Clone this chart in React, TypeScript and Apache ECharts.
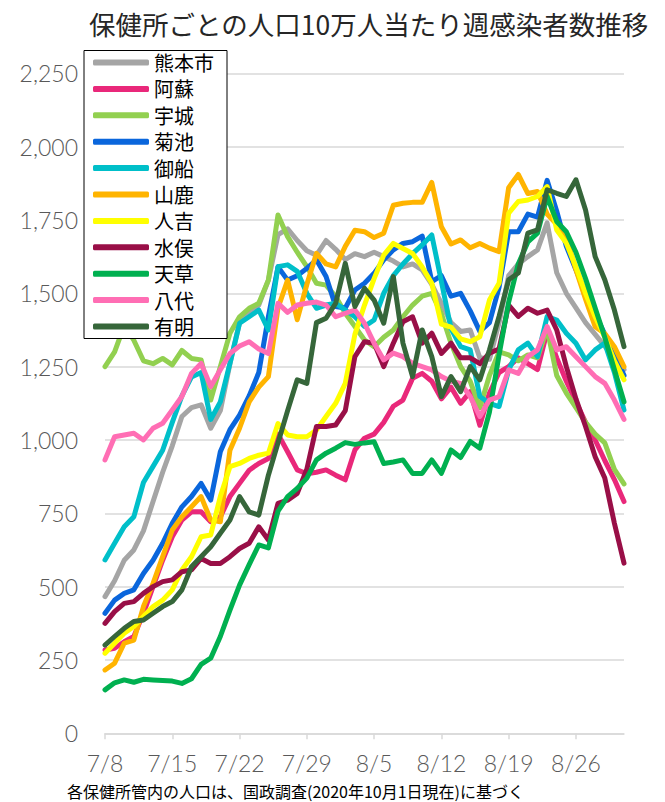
import React, { useEffect, useRef } from "react";
import * as echarts from "echarts";

const dates = [
  "7/8","7/9","7/10","7/11","7/12","7/13","7/14","7/15","7/16","7/17",
  "7/18","7/19","7/20","7/21","7/22","7/23","7/24","7/25","7/26","7/27",
  "7/28","7/29","7/30","7/31","8/1","8/2","8/3","8/4","8/5","8/6",
  "8/7","8/8","8/9","8/10","8/11","8/12","8/13","8/14","8/15","8/16",
  "8/17","8/18","8/19","8/20","8/21","8/22","8/23","8/24","8/25","8/26",
  "8/27","8/28","8/29","8/30","8/31",
];

const yTicks = [0, 250, 500, 750, 1000, 1250, 1500, 1750, 2000, 2250];

const kumamotoCity = [466,520,590,625,690,790,890,980,1080,1110,1120,1040,1100,1260,1400,1430,1460,1545,1700,1720,1680,1645,1630,1680,1650,1615,1635,1625,1640,1625,1610,1590,1600,1580,1530,1466,1400,1370,1375,1280,1275,1400,1560,1600,1625,1648,1740,1570,1500,1450,1400,1360,1320,1280,1240];
const aso = [284,290,312,330,409,500,590,670,727,755,755,721,738,807,852,897,920,937,1020,960,898,885,890,898,880,864,966,1006,1020,1060,1115,1136,1210,1227,1200,1140,1180,1125,1165,1050,1160,1230,1250,1280,1260,1240,1370,1280,1200,1130,1060,1000,930,865,790];
const uki = [1250,1300,1390,1340,1270,1260,1278,1256,1305,1278,1273,1136,1250,1364,1420,1449,1466,1545,1767,1693,1640,1591,1534,1528,1489,1432,1387,1341,1318,1350,1375,1420,1460,1490,1500,1430,1330,1250,1200,1110,1220,1300,1290,1270,1290,1280,1380,1220,1160,1110,1060,1020,990,900,850];
const kikuchi = [409,454,477,489,545,590,648,716,772,807,852,795,960,1035,1085,1150,1230,1420,1590,1545,1560,1585,1614,1557,1455,1450,1511,1534,1568,1614,1648,1670,1676,1695,1540,1560,1490,1500,1440,1370,1400,1520,1710,1710,1770,1760,1885,1780,1660,1580,1500,1430,1360,1290,1220];
const mifune = [591,648,704,738,855,910,965,1060,1150,1215,1230,1070,1130,1261,1398,1420,1443,1375,1591,1597,1575,1500,1449,1460,1466,1443,1420,1387,1409,1500,1560,1600,1635,1665,1699,1540,1380,1318,1307,1148,1125,1114,1239,1307,1330,1284,1421,1409,1364,1330,1273,1307,1330,1230,1102];
const yamaga = [216,239,307,318,432,511,602,693,738,772,807,727,721,965,1040,1130,1180,1216,1450,1545,1410,1530,1636,1600,1590,1660,1715,1710,1690,1705,1800,1807,1810,1810,1878,1727,1668,1682,1655,1670,1654,1642,1860,1905,1840,1847,1770,1735,1690,1580,1480,1386,1363,1318,1250];
const hitoyoshi = [273,307,341,364,398,432,454,489,557,602,670,676,807,909,920,937,948,955,1056,1017,1011,1011,1034,1080,1125,1193,1360,1460,1550,1630,1670,1653,1636,1590,1534,1395,1385,1345,1335,1352,1477,1534,1773,1813,1818,1830,1864,1716,1671,1590,1500,1420,1350,1270,1205];
const minamata = [375,415,443,449,477,500,517,523,551,557,596,579,579,602,630,648,704,659,784,795,818,900,1046,1046,1051,1100,1284,1335,1330,1250,1330,1403,1420,1330,1364,1295,1330,1280,1280,1260,1296,1310,1460,1421,1449,1432,1443,1375,1250,1140,1046,943,870,716,580];
const amakusa = [148,172,182,174,184,182,180,178,170,186,235,256,330,420,505,575,642,632,757,807,835,870,932,955,972,991,985,990,994,920,925,932,886,886,932,886,966,940,995,972,1095,1290,1470,1600,1675,1705,1830,1745,1710,1640,1550,1450,1350,1240,1130];
const yatsushiro = [932,1011,1017,1023,1000,1040,1057,1102,1148,1227,1261,1182,1239,1295,1320,1335,1310,1295,1466,1435,1460,1466,1470,1460,1420,1432,1443,1398,1330,1273,1296,1284,1261,1250,1239,1216,1200,1193,1148,1080,1136,1148,1239,1227,1284,1307,1387,1307,1318,1284,1250,1216,1193,1136,1070];
const ariake = [301,330,358,381,386,409,432,449,489,568,602,636,682,727,807,755,744,880,990,1100,1205,1193,1400,1415,1466,1602,1455,1517,1477,1398,1557,1330,1216,1375,1284,1148,1216,1165,1250,1205,1307,1421,1546,1569,1705,1716,1853,1841,1830,1887,1784,1625,1546,1443,1318];

const seriesNames = ["熊本市","阿蘇","宇城","菊池","御船","山鹿","人吉","水俣","天草","八代","有明"];
const seriesColors = ["#A5A5A5","#E9287A","#92D050","#0A66DC","#00BFC9","#FFB400","#FFFF00","#990F47","#00B050","#FF6EB4","#36663A"];
const seriesData = [kumamotoCity, aso, uki, kikuchi, mifune, yamaga, hitoyoshi, minamata, amakusa, yatsushiro, ariake];

const titleText = "保健所ごとの人口10万人当たり週感染者数推移";
const noteText = "各保健所管内の人口は、国政調査(2020年10月1日現在)に基づく";

export default function App() {
  const ref = useRef<HTMLDivElement>(null);
  useEffect(() => {
    if (!ref.current) return;
    const chart = echarts.init(ref.current, undefined, { renderer: "svg" });
    const jp = "'Noto Sans CJK JP', 'Noto Sans', sans-serif";
    const num = "Lato, 'DejaVu Sans', sans-serif";
    chart.setOption({
      animation: false,
      backgroundColor: "#ffffff",
      title: {
        text: titleText,
        left: 84,
        top: 5,
        textStyle: { fontFamily: jp, fontSize: 26.5, fontWeight: "normal", color: "#262626" },
      },
      grid: { left: 105, right: 41, top: 73.3, bottom: 68.7, containLabel: false },
      legend: {
        orient: "vertical",
        left: 84,
        top: 50.5,
        z: 20,
        icon: "roundRect",
        itemWidth: 56,
        itemHeight: 6,
        itemGap: 6.4,
        padding: [2, 13, 2, 9],
        backgroundColor: "#ffffff",
        borderColor: "#000000",
        borderWidth: 1,
        data: seriesNames,
        textStyle: { fontFamily: jp, fontSize: 20, color: "#000000", lineHeight: 20 },
      },
      xAxis: {
        type: "category",
        data: dates,
        boundaryGap: false,
        axisLine: { lineStyle: { color: "#d9d9d9", width: 1.5 } },
        axisTick: { show: true, interval: 6, length: 6, lineStyle: { color: "#d9d9d9", width: 1.5 } },
        axisLabel: { interval: 6, margin: 18, fontFamily: num, fontWeight: 300, fontSize: 23, color: "#595959" },
        splitLine: { show: false },
      },
      yAxis: {
        type: "value",
        min: yTicks[0],
        max: yTicks[yTicks.length - 1],
        interval: 250,
        axisLine: { show: false },
        axisTick: { show: false },
        axisLabel: {
          margin: 27,
          fontFamily: num,
          fontWeight: 300,
          fontSize: 23,
          color: "#595959",
          formatter: (v: number) => v.toLocaleString("en-US"),
        },
        splitLine: { lineStyle: { color: "#d9d9d9", width: 1.5 } },
      },
      graphic: [
        {
          type: "text",
          left: 67,
          top: 783,
          style: { text: noteText, fontFamily: jp, fontSize: 16, fill: "#000000" },
        },
      ],
      series: seriesNames.map((name, i) => ({
        name,
        type: "line",
        data: seriesData[i],
        symbol: "none",
        color: seriesColors[i],
        lineStyle: { width: 5, color: seriesColors[i], cap: "round", join: "round" },
        emphasis: { disabled: true },
      })),
    });
    return () => chart.dispose();
  }, []);
  return <div ref={ref} style={{ position: "fixed", left: 0, top: 0, width: 665, height: 802 }} />;
}
